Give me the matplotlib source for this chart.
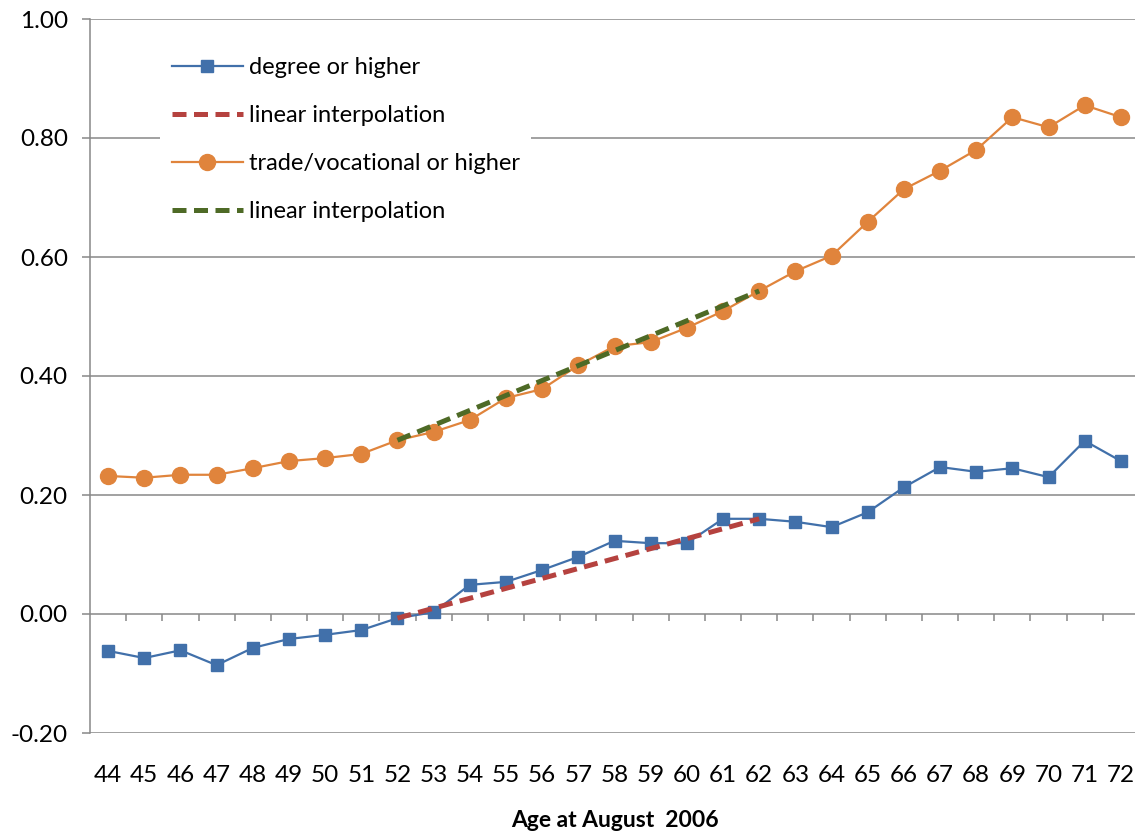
import matplotlib
matplotlib.use("Agg")
import matplotlib.pyplot as plt

ages = list(range(44, 73))

degree = [-0.062, -0.074, -0.061, -0.086, -0.057, -0.042, -0.035, -0.027, -0.007, 0.003,
          0.049, 0.054, 0.074, 0.096, 0.123, 0.119, 0.119, 0.160, 0.160, 0.155,
          0.146, 0.171, 0.213, 0.247, 0.239, 0.245, 0.230, 0.291, 0.257]

trade = [0.232, 0.229, 0.234, 0.234, 0.245, 0.257, 0.262, 0.269, 0.292, 0.306,
         0.326, 0.363, 0.378, 0.418, 0.450, 0.457, 0.481, 0.509, 0.543, 0.576,
         0.602, 0.659, 0.714, 0.745, 0.780, 0.835, 0.818, 0.855, 0.835]

interp_ages = [52, 62]
degree_interp = [-0.007, 0.160]
trade_interp = [0.292, 0.543]

yticks = [-0.20, 0.00, 0.20, 0.40, 0.60, 0.80, 1.00]

grey = "#888888"
plt.rcParams['font.family'] = ['Lato', 'DejaVu Sans']

fig = plt.figure(figsize=(11.35, 8.32), dpi=100)
ax = fig.add_axes([90 / 1135, 99 / 832, 1049 / 1135, 714 / 832])

ax.plot(ages, degree, color='#4170AA', linewidth=1.6, marker='s', markersize=9,
        label='degree or higher', zorder=3)
ax.plot(interp_ages, degree_interp, color='#B5423F', linewidth=3.6, dashes=(2.8, 1.5),
        label='linear interpolation', zorder=4)
ax.plot(ages, trade, color='#E0843C', linewidth=1.6, marker='o', markersize=11.5,
        label='trade/vocational or higher', zorder=3)
ax.plot(interp_ages, trade_interp, color='#4E6A26', linewidth=3.6, dashes=(2.8, 1.5),
        label='linear interpolation', zorder=4)

ax.set_xlim(ages[0] - 0.5, ages[-1] + 0.5)
ax.set_ylim(yticks[0], yticks[-1])

# horizontal gridlines
for v in yticks:
    ax.axhline(v, color=grey, linewidth=1.1, zorder=1)

for s in ['top', 'right', 'bottom']:
    ax.spines[s].set_visible(False)
ax.spines['left'].set_color(grey)
ax.spines['left'].set_linewidth(1.1)

ax.set_yticks(yticks)
ax.set_yticklabels([f"{v:.2f}" for v in yticks], fontsize=17.5)
ax.tick_params(axis='y', direction='out', length=6, color=grey, width=1.1, pad=10)

ax.set_xticks(ages)
ax.set_xticklabels([str(a) for a in ages], fontsize=17.5)
ax.tick_params(axis='x', length=0, pad=23)

# tick marks between categories on the zero line
zero_pos = (0 - yticks[0]) / (yticks[-1] - yticks[0])
sec = ax.secondary_xaxis(zero_pos)
sec.set_xticks([a + 0.5 for a in ages[:-1]])
sec.set_xticklabels([])
sec.tick_params(direction='out', length=5, color=grey, width=1.1)
sec.spines['bottom'].set_visible(False)

ax.set_xlabel("Age at August  2006", fontsize=16.5, fontweight='bold', labelpad=17)

leg = ax.legend(loc='upper left', bbox_to_anchor=(160 / 1135, 1 - 45 / 832),
                bbox_transform=fig.transFigure, fontsize=17, frameon=True,
                handlelength=3.0, handletextpad=0.25, labelspacing=1.15,
                borderpad=0.5, borderaxespad=0, fancybox=False)
leg.get_frame().set_facecolor('white')
leg.get_frame().set_edgecolor('none')
leg.get_frame().set_alpha(1)
leg.set_zorder(5)

fig.savefig("out.png", dpi=100)
